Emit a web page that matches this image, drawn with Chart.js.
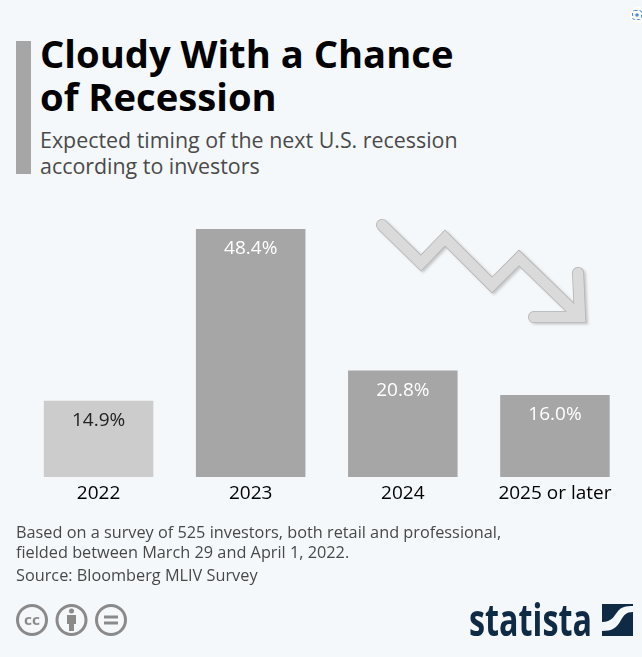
<!DOCTYPE html>
<html>
<head>
<meta charset="utf-8">
<title>Cloudy With a Chance of Recession</title>
<script src="https://cdn.jsdelivr.net/npm/chart.js@4"></script>
<style>
html, body { margin: 0; padding: 0; background: #f5f8fb; }
body { width: 642px; height: 657px; position: relative; overflow: hidden; font-family: "Open Sans", sans-serif; }
.abs { position: absolute; }
#sidebar { left: 16px; top: 41px; width: 15px; height: 133px; background: #a6a6a6; }
#title { left: 40px; top: 32px; font-size: 38.2px; line-height: 43px; font-weight: 700; color: #000; white-space: nowrap; }
#subtitle { left: 40px; top: 127px; font-size: 21.4px; line-height: 26px; color: #4a4a4a; white-space: nowrap; }
#notes { left: 16px; top: 522px; font-size: 16.3px; line-height: 20px; color: #484848; white-space: nowrap; }
#source { left: 16px; top: 565px; font-size: 16.3px; line-height: 20px; color: #484848; white-space: nowrap; }
#chart { left: 0; top: 0; }
</style>
</head>
<body>
<div id="sidebar" class="abs"></div>
<div id="title" class="abs">Cloudy With a Chance<br>of Recession</div>
<div id="subtitle" class="abs">Expected timing of the next U.S. recession<br>according to investors</div>
<canvas id="chart" class="abs" width="642" height="507"></canvas>

<svg class="abs" style="left:0;top:0" width="642" height="657" viewBox="0 0 642 657">
  <defs>
    <filter id="shadow" x="-10%" y="-10%" width="125%" height="125%">
      <feDropShadow dx="2" dy="1.5" stdDeviation="0.8" flood-color="#9a9a9a" flood-opacity="0.5"/>
    </filter>
  </defs>
  <!-- decorative arrow -->
  <g fill="none" stroke-linecap="round" stroke-linejoin="miter" filter="url(#shadow)">
    <path d="M382 225 L421 263 L445 238 L492 285 L519 258 L580 317 M578 273 L580 317 L534 317" stroke="#b4b4b4" stroke-width="12"/>
    <path d="M382 225 L421 263 L445 238 L492 285 L519 258 L580 317 M578 273 L580 317 L534 317" stroke="#dadada" stroke-width="10.4"/>
  </g>
  <!-- licence icons -->
  <g fill="none" stroke="#8a8a8a" stroke-width="3">
    <circle cx="32" cy="620" r="14.5"/>
    <circle cx="71.5" cy="620" r="14.5"/>
    <circle cx="111" cy="620" r="14.5"/>
  </g>
  <text x="24" y="625" font-family="Open Sans" font-weight="700" font-size="15" fill="#8a8a8a" textLength="16" lengthAdjust="spacingAndGlyphs">cc</text>
  <g fill="#8a8a8a">
    <circle cx="71.5" cy="611" r="2.5"/>
    <rect x="67" y="615" width="9" height="9"/>
    <rect x="69" y="623" width="5" height="8"/>
    <rect x="104" y="615.5" width="14" height="3"/>
    <rect x="104" y="621.5" width="14" height="3"/>
  </g>
  <!-- logo -->
  <text x="469" y="636" font-family="Liberation Sans Narrow, Open Sans" font-weight="700" font-size="44" fill="#0f2a45" textLength="123" lengthAdjust="spacingAndGlyphs">statista</text>
  <rect x="602" y="604" width="31" height="32" fill="#0f2a45"/>
  <path d="M602 622 C612 622 614 616 618 611 C621 607 626 606 633 606 L633 612 C626 612 624 615 621 620 C617 628 612 631 602 631 Z" fill="#f5f8fb"/>
  <!-- top right button -->
  <circle cx="638" cy="15" r="8" fill="#ffffff"/>
  <circle cx="637" cy="15" r="1.8" fill="#4a90d9"/>
  <rect x="632.5" y="10.5" width="9" height="9" rx="2" fill="none" stroke="#4a90d9" stroke-width="1" stroke-dasharray="3 2"/>
</svg>

<div id="notes" class="abs">Based on a survey of 525 investors, both retail and professional,<br>fielded between March 29 and April 1, 2022.</div>
<div id="source" class="abs">Source: Bloomberg MLIV Survey</div>

<script>
const categories = ["2022", "2023", "2024", "2025 or later"];
const shares = [14.9, 48.4, 20.8, 16.0];
const barColors = ["#cccccc", "#a6a6a6", "#a6a6a6", "#a6a6a6"];
const labelColors = ["#222222", "#ffffff", "#ffffff", "#ffffff"];

// value labels sit inside the top of each bar
const barLabels = {
    id: "barLabels",
    afterDatasetsDraw(chart) {
        const ctx = chart.ctx;
        ctx.save();
        ctx.font = "19px 'Open Sans'";
        ctx.textAlign = "center";
        ctx.textBaseline = "middle";
        chart.getDatasetMeta(0).data.forEach((bar, i) => {
            ctx.fillStyle = labelColors[i];
            ctx.fillText(shares[i].toFixed(1) + "%", bar.x, bar.y + 20);
        });
        ctx.restore();
    }
};

new Chart(document.getElementById("chart"), {
    type: "bar",
    data: {
        labels: categories,
        datasets: [{
            data: shares,
            backgroundColor: barColors,
            categoryPercentage: 1,
            barPercentage: 0.72
        }]
    },
    options: {
        responsive: false,
        animation: false,
        layout: { padding: { left: 22.5, right: 11, top: 0, bottom: 0 } },
        plugins: { legend: { display: false }, tooltip: { enabled: false } },
        scales: {
            x: {
                grid: { display: false },
                border: { display: false },
                ticks: { color: "#000000", font: { family: "Open Sans", size: 19 }, padding: -3, maxRotation: 0, autoSkip: false },
                afterFit: (scale) => { scale.height = 30; }
            },
            y: {
                display: false,
                min: 0,
                max: 93.1
            }
        }
    },
    plugins: [barLabels]
});
</script>
</body>
</html>
